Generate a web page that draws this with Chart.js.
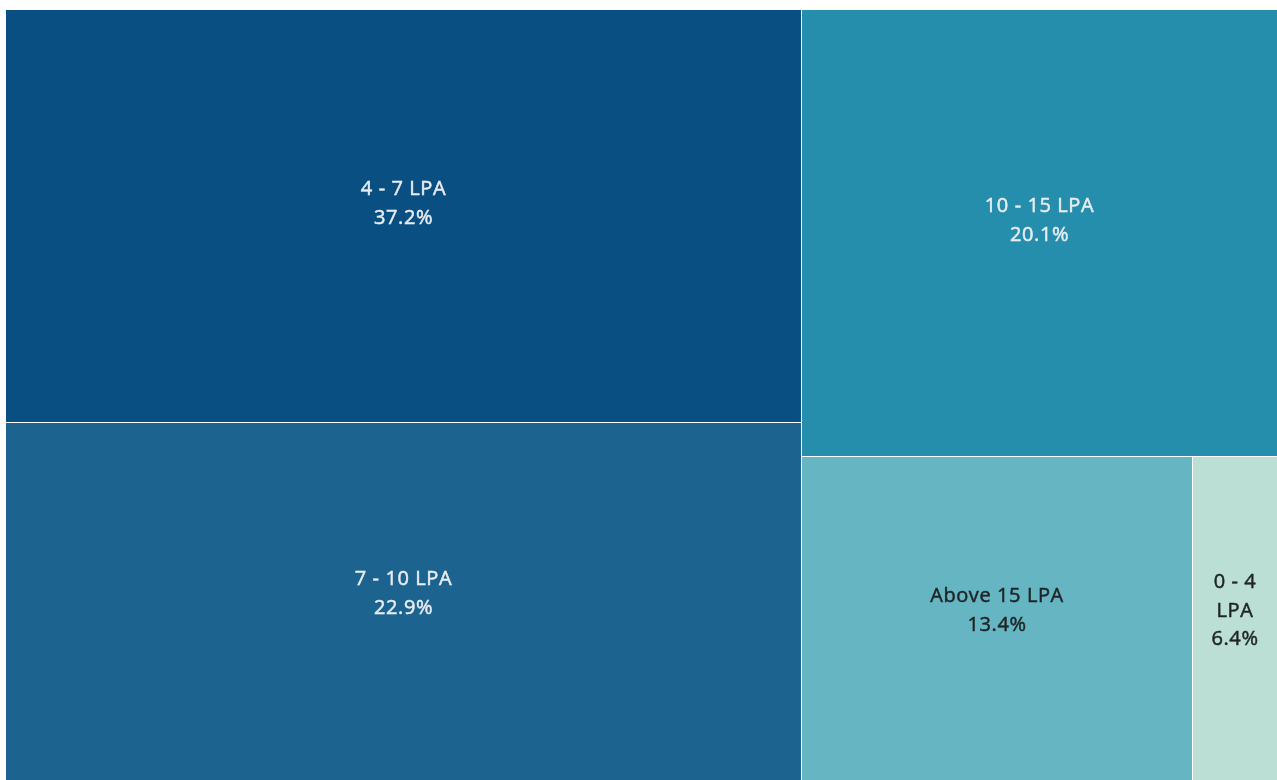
<!DOCTYPE html>
<html>
<head>
<meta charset="utf-8">
<script src="https://cdn.jsdelivr.net/npm/chart.js@4/dist/chart.umd.min.js"></script>
<style>
  html, body { margin: 0; padding: 0; background: #fff; overflow: hidden; }
  #treeChart { display: block; }
</style>
</head>
<body>
<canvas id="treeChart" width="1277" height="789"></canvas>
<script>
    /*global Chart*/
    // salary bands, in the order the treemap lays them out
    var bands = ["4 - 7 LPA", "7 - 10 LPA", "10 - 15 LPA", "Above 15 LPA", "0 - 4 LPA"];
    // share shown on each tile (%)
    var shares = [37.2, 22.9, 20.1, 13.4, 6.4];
    // size measure of each tile, estimated from the tile areas
    var tileSize = [33.2, 29.4, 21.4, 13.1, 2.8];

    var palette = ["#0a4f81", "#1c638f", "#258ead", "#65b5c2", "#bbdfd5"];

    // binary split treemap: split where the running sum gets closest to half,
    // columns first, then rows, and so on
    function layout(idx, x0, y0, x1, y1, depth, out) {
        if (idx.length === 1) {
            out[idx[0]] = {x0: x0, y0: y0, x1: x1, y1: y1};
            return;
        }
        var total = 0;
        idx.forEach(function (i) { total += tileSize[i]; });
        var run = 0, cut = 1, best = Infinity;
        for (var k = 0; k < idx.length - 1; k++) {
            run += tileSize[idx[k]];
            var d = Math.abs(run - total / 2);
            if (d < best) { best = d; cut = k + 1; }
        }
        var a = idx.slice(0, cut), b = idx.slice(cut);
        var sa = 0;
        a.forEach(function (i) { sa += tileSize[i]; });
        var f = sa / total;
        if (depth % 2 === 0) {
            var xm = x0 + (x1 - x0) * f;
            layout(a, x0, y0, xm, y1, depth + 1, out);
            layout(b, xm, y0, x1, y1, depth + 1, out);
        } else {
            var ym = y0 + (y1 - y0) * f;
            layout(a, x0, y0, x1, ym, depth + 1, out);
            layout(b, x0, ym, x1, y1, depth + 1, out);
        }
    }

    var tiles = [];
    layout(bands.map(function (b, i) { return i; }), 0, 0, 100, 100, 0, tiles);

    function isDark(hex) {
        var r = parseInt(hex.substr(1, 2), 16), g = parseInt(hex.substr(3, 2), 16), b = parseInt(hex.substr(5, 2), 16);
        return (0.299 * r + 0.587 * g + 0.114 * b) < 140;
    }

    function wrap(ctx, text, maxW) {
        var words = text.split(" "), lines = [], cur = "";
        words.forEach(function (w) {
            var t = cur ? cur + " " + w : w;
            if (cur && ctx.measureText(t).width > maxW) {
                lines.push(cur);
                cur = w;
            } else {
                cur = t;
            }
        });
        if (cur) lines.push(cur);
        return lines;
    }

    var treemapPlugin = {
        id: 'treemapTiles',
        afterDatasetsDraw: function (chart) {
            var ctx = chart.ctx, xs = chart.scales.x, ys = chart.scales.y, area = chart.chartArea;
            ctx.save();
            tiles.forEach(function (t, i) {
                var left = Math.round(xs.getPixelForValue(t.x0));
                var right = Math.round(xs.getPixelForValue(t.x1));
                var top = Math.round(ys.getPixelForValue(t.y0));
                var bottom = Math.round(ys.getPixelForValue(t.y1));
                if (right < area.right) right -= 1;
                if (bottom < area.bottom) bottom -= 1;
                ctx.fillStyle = palette[i];
                ctx.fillRect(left, top, right - left, bottom - top);

                var txt = isDark(palette[i]) ? '#e9edf1' : '#1f2426';
                ctx.font = '20px "Open Sans"';
                ctx.letterSpacing = '0.6px';
                ctx.fillStyle = txt;
                ctx.strokeStyle = txt;
                ctx.lineWidth = 0.5;
                ctx.textAlign = 'center';
                ctx.textBaseline = 'middle';
                var lines = wrap(ctx, bands[i], right - left - 12);
                lines.push(shares[i].toFixed(1) + '%');
                var lh = 28.5;
                var cx = (left + right) / 2;
                var cy = (top + bottom) / 2 - 12;
                var y = cy - (lines.length - 1) * lh / 2;
                lines.forEach(function (ln, j) {
                    ctx.fillText(ln, cx, y + j * lh);
                    ctx.strokeText(ln, cx, y + j * lh);
                });
            });
            ctx.restore();
        }
    };

    var ctx = document.getElementById("treeChart").getContext("2d");
    new Chart(ctx, {
        type: 'scatter',
        data: { datasets: [{ data: [] }] },
        options: {
            responsive: false,
            animation: false,
            layout: { padding: { left: 6, top: 10, right: 0, bottom: 0 } },
            plugins: { legend: { display: false }, tooltip: { enabled: false } },
            scales: {
                x: { type: 'linear', min: 0, max: 100, display: false },
                y: { type: 'linear', min: 0, max: 100, reverse: true, display: false }
            }
        },
        plugins: [treemapPlugin]
    });
</script>
</body>
</html>
